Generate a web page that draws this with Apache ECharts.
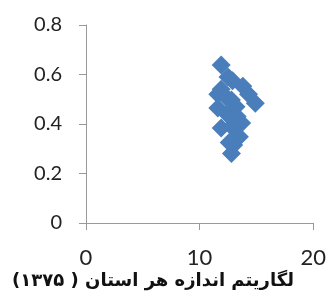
<!DOCTYPE html>
<html>
<head>
<meta charset="utf-8">
<script src="https://cdn.jsdelivr.net/npm/echarts@6/dist/echarts.min.js"></script>
<style>
  html, body { margin: 0; padding: 0; background: #fff; }
  #chart { width: 329px; height: 292px; }
</style>
</head>
<body>
<div id="chart"></div>
<script>
// log of province size (x) vs value (y)
const xValues = [11.9, 12.5, 12.9, 13.8, 11.9, 11.6, 14.3, 14.9, 12.8, 11.6, 13.2, 12.4, 13.7, 11.9, 12.8, 13.5, 12.6, 13.0, 12.8, 13.3, 12.3];
const yValues = [0.638, 0.59, 0.575, 0.553, 0.54, 0.52, 0.52, 0.484, 0.497, 0.465, 0.47, 0.44, 0.404, 0.384, 0.39, 0.348, 0.325, 0.315, 0.281, 0.43, 0.51];
const xTicks = [0, 10, 20];
const yTicks = [0, 0.2, 0.4, 0.6, 0.8];
const xTitle = 'لگاریتم اندازه هر استان ( ۱۳۷۵)';

const points = xValues.map((x, i) => [x, yValues[i]]);

const chart = echarts.init(document.getElementById('chart'));

const axisColor = '#999999';

chart.setOption({
    animation: false,
    grid: { left: 86, right: 13, top: 25, bottom: 69 },
    xAxis: {
        type: 'value',
        min: xTicks[0],
        max: xTicks[xTicks.length - 1],
        interval: 10,
        splitLine: { show: false },
        axisLine: { lineStyle: { color: axisColor } },
        axisTick: { show: true, length: 7, lineStyle: { color: axisColor } },
        axisLabel: { margin: 24, fontFamily: 'Lato', fontSize: 22, color: '#222' }
    },
    yAxis: {
        type: 'value',
        min: yTicks[0],
        max: yTicks[yTicks.length - 1],
        interval: 0.2,
        splitLine: { show: false },
        axisLine: { show: true, lineStyle: { color: axisColor } },
        axisTick: { show: true, length: 7, lineStyle: { color: axisColor } },
        axisLabel: { margin: 24, fontFamily: 'Lato', fontSize: 20, color: '#222' }
    },
    graphic: [{
        type: 'text',
        x: 153,
        y: 281,
        style: {
            text: '\u202B' + xTitle + '\u202C',
            font: 'bold 18px "DejaVu Sans"',
            fill: '#111',
            align: 'center',
            verticalAlign: 'middle'
        }
    }],
    series: [{
        type: 'scatter',
        data: points,
        symbol: 'diamond',
        symbolSize: 19,
        itemStyle: { color: '#4a7ebb', opacity: 1, borderWidth: 0 }
    }]
});
</script>
</body>
</html>
